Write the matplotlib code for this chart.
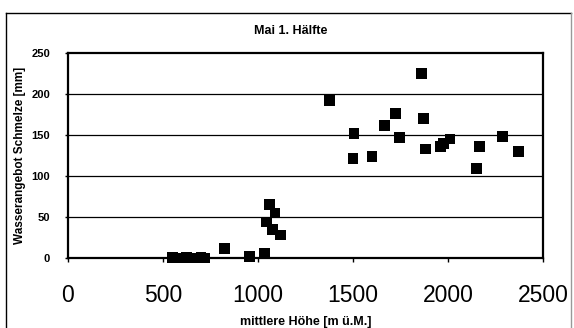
import matplotlib
matplotlib.use("Agg")
import matplotlib.pyplot as plt
from matplotlib.lines import Line2D

plt.rcParams['font.family'] = ['Liberation Sans', 'DejaVu Sans']

# mean elevation of the catchment (m ü.M.) and snowmelt water supply (mm)
elevation = [550, 575, 600, 625, 650, 675, 700, 720, 825, 955, 1035, 1045,
             1060, 1075, 1090, 1120, 1375, 1500, 1505, 1600, 1665, 1725,
             1745, 1860, 1870, 1880, 1960, 1975, 2010, 2150, 2165, 2285, 2370]
melt = [1, 0, 0, 1, 0, 0, 1, 0, 12, 2, 6, 44,
        65, 35, 55, 28, 192, 121, 152, 124, 162, 176,
        147, 225, 170, 133, 136, 140, 145, 109, 136, 148, 130]

x_ticks = [0, 500, 1000, 1500, 2000, 2500]
y_ticks = [0, 50, 100, 150, 200, 250]

fig = plt.figure(figsize=(5.74, 3.28), dpi=100)
ax = fig.add_axes([68 / 574, 1 - 258 / 328, (543 - 68) / 574, (258 - 53) / 328])

for yv in y_ticks[1:-1]:
    ax.axhline(yv, color='black', lw=0.9, zorder=1)

ax.scatter(elevation, melt, marker='s', s=60, color='black',
           edgecolors='none', zorder=3, clip_on=False)

ax.set_xlim(0, 2500)
ax.set_ylim(0, 250)
ax.set_xticks(x_ticks)
ax.set_yticks(y_ticks)
ax.set_xticklabels([str(v) for v in x_ticks], fontsize=16.5)
ax.set_yticklabels([str(v) for v in y_ticks], fontsize=8, fontweight='bold')
ax.tick_params(axis='x', direction='out', length=3, width=1, pad=16)
ax.tick_params(axis='y', direction='out', length=2, width=1, pad=11)

for side in ['left', 'right', 'bottom', 'top']:
    ax.spines[side].set_linewidth(1.6)
    ax.spines[side].set_color('black')

ax.set_xlabel('mittlere Höhe [m ü.M.]', fontsize=9, fontweight='bold', labelpad=6)
ax.set_ylabel('Wasserangebot Schmelze [mm]', fontsize=8.5, fontweight='bold', labelpad=4)

fig.text(291 / 574, 1 - 31 / 328, 'Mai 1. Hälfte', ha='center', va='center',
         fontsize=9, fontweight='bold')

# outer chart frame
frame_kw = dict(transform=fig.transFigure, color='black', lw=1.0)
fig.add_artist(Line2D([6 / 574, 571 / 574], [1 - 13 / 328, 1 - 13 / 328], **frame_kw))
fig.add_artist(Line2D([6 / 574, 6 / 574], [1 - 13 / 328, 0], **frame_kw))
fig.add_artist(Line2D([571 / 574, 571 / 574], [1 - 13 / 328, 0],
                      transform=fig.transFigure, color='#999999', lw=1.0))

fig.savefig('out.png', dpi=100)
